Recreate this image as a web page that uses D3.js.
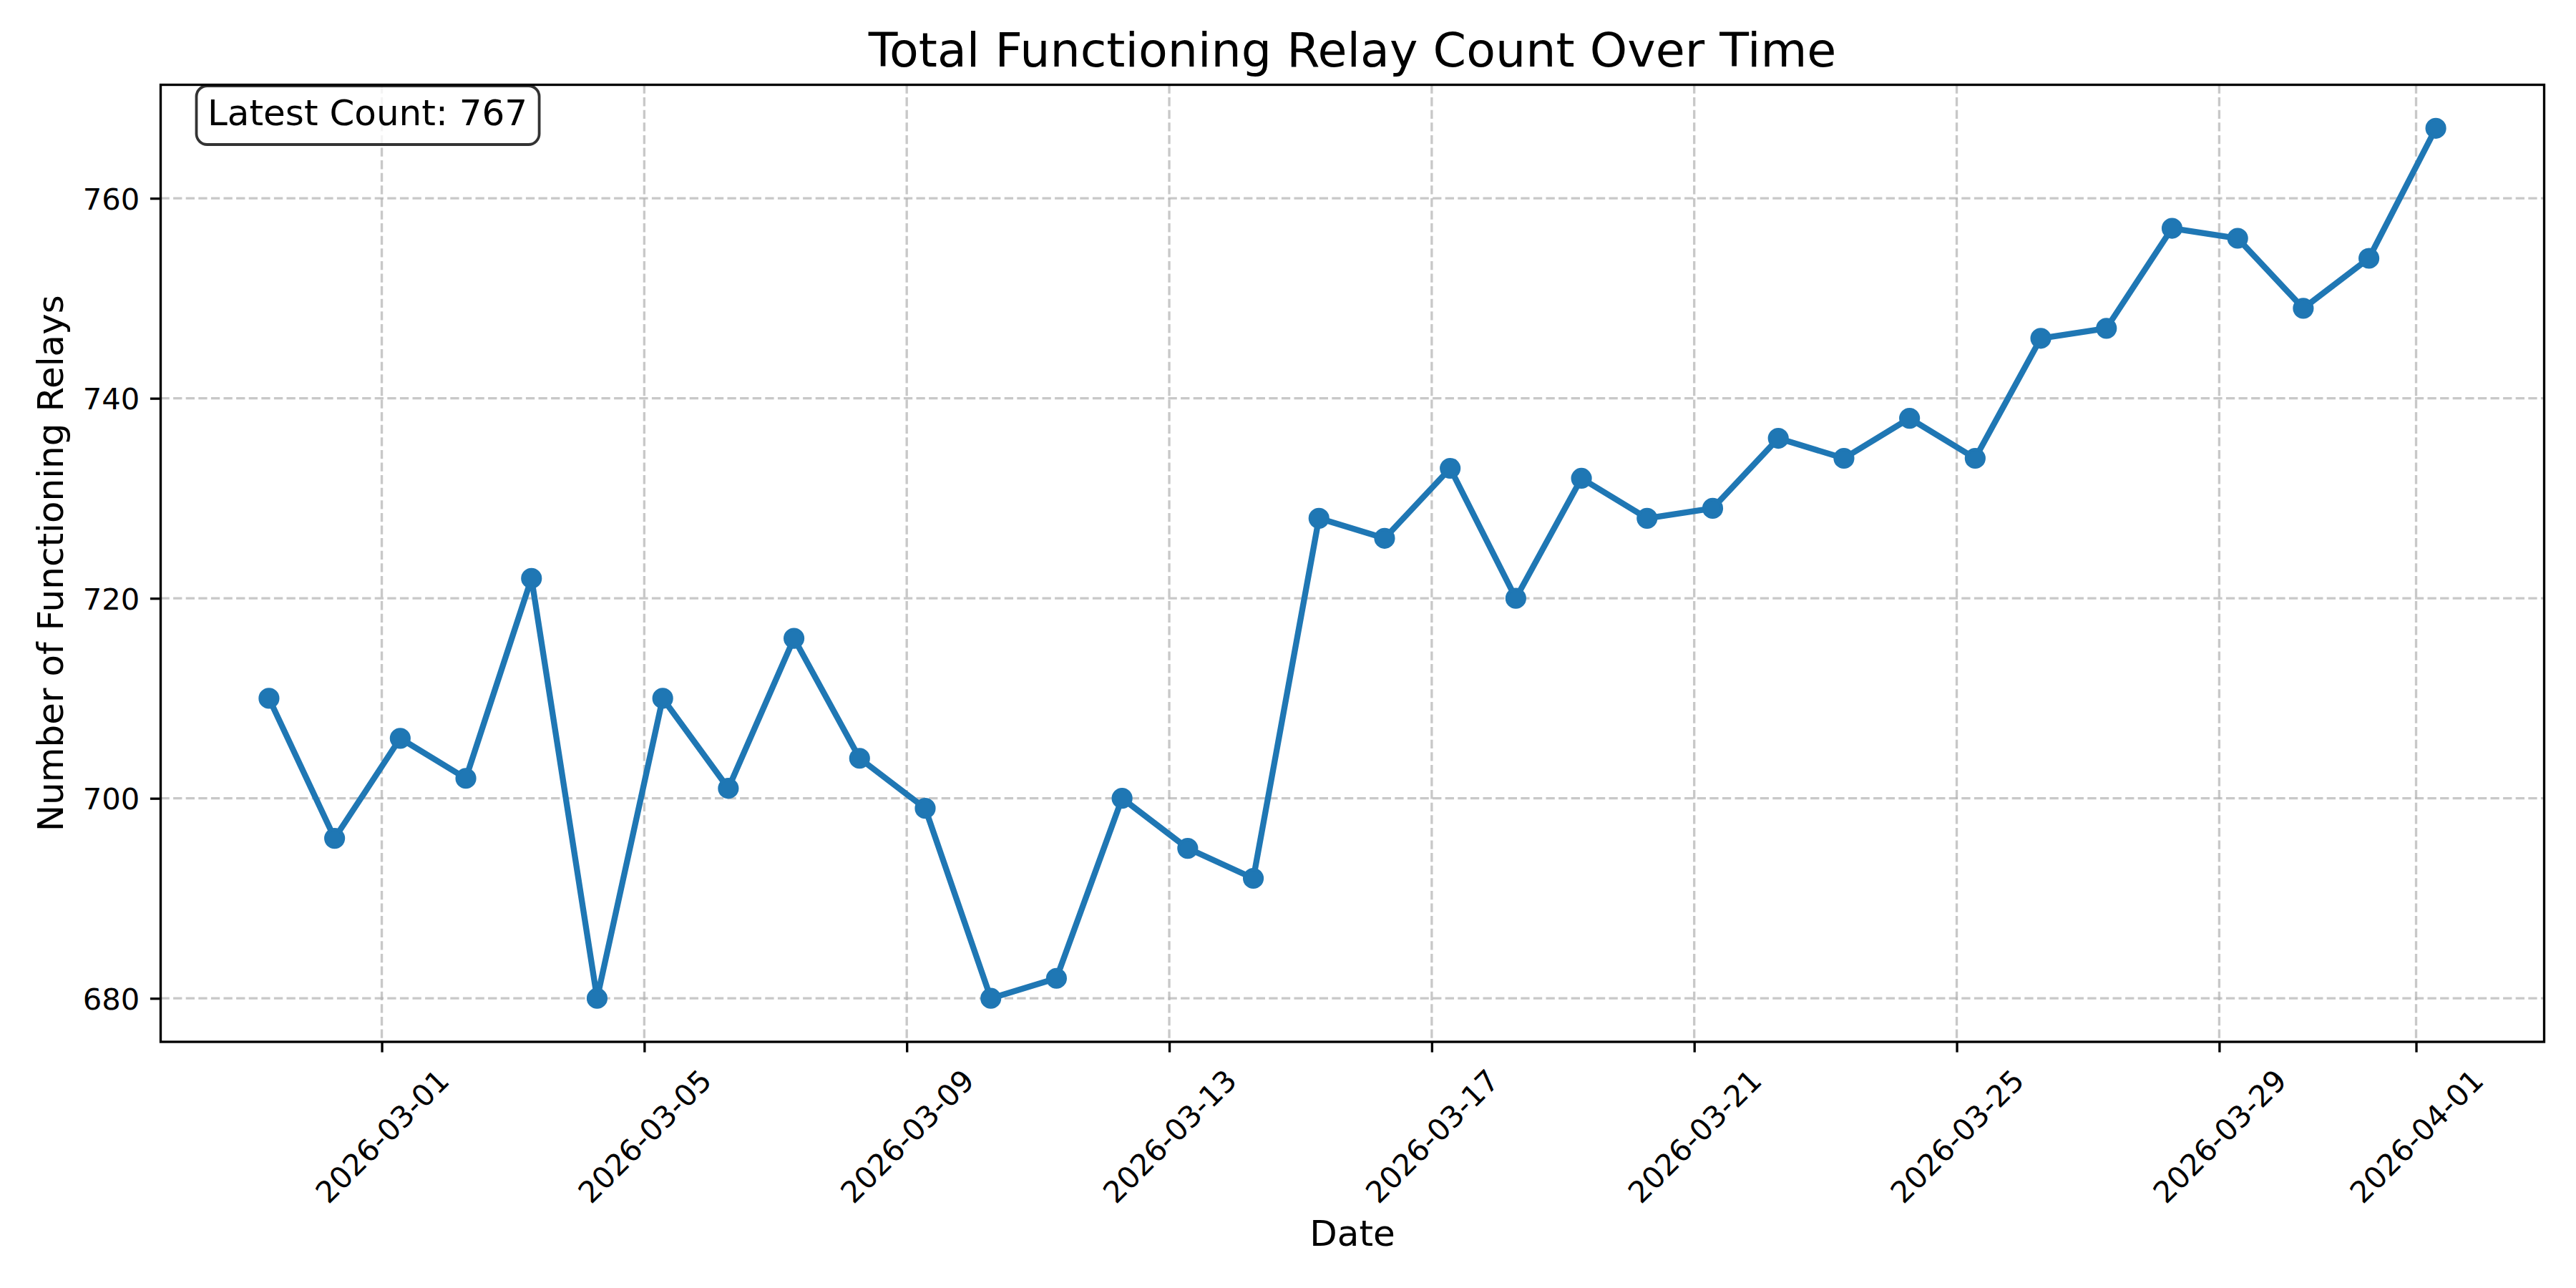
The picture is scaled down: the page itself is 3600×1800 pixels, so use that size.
<!DOCTYPE html>
<html>
<head>
<meta charset="utf-8">
<script src="https://cdn.jsdelivr.net/npm/d3@7"></script>
<style>
  html, body { margin: 0; padding: 0; background: #fff; }
  svg { display: block; font-family: "DejaVu Sans", sans-serif; }
</style>
</head>
<body>
<script>
// daily samples of the relay count
const dates = [
  "2026-02-27T06:45", "2026-02-28T06:45", "2026-03-01T06:45", "2026-03-02T06:45",
  "2026-03-03T06:45", "2026-03-04T06:45", "2026-03-05T06:45", "2026-03-06T06:45",
  "2026-03-07T06:45", "2026-03-08T06:45", "2026-03-09T06:45", "2026-03-10T06:45",
  "2026-03-11T06:45", "2026-03-12T06:45", "2026-03-13T06:45", "2026-03-14T06:45",
  "2026-03-15T06:45", "2026-03-16T06:45", "2026-03-17T06:45", "2026-03-18T06:45",
  "2026-03-19T06:45", "2026-03-20T06:45", "2026-03-21T06:45", "2026-03-22T06:45",
  "2026-03-23T06:45", "2026-03-24T06:45", "2026-03-25T06:45", "2026-03-26T06:45",
  "2026-03-27T06:45", "2026-03-28T06:45", "2026-03-29T06:45", "2026-03-30T06:45",
  "2026-03-31T06:45", "2026-04-01T07:13"
];
const counts = [
  710, 696, 706, 702, 722, 680, 710, 701, 716, 704, 699, 680,
  682, 700, 695, 692, 728, 726, 733, 720, 732, 728, 729, 736,
  734, 738, 734, 746, 747, 757, 756, 749, 754, 767
];
const xTickDates = ["2026-03-01", "2026-03-05", "2026-03-09", "2026-03-13", "2026-03-17",
                    "2026-03-21", "2026-03-25", "2026-03-29", "2026-04-01"];
const yTicks = [680, 700, 720, 740, 760];

const W = 3600, H = 1800;
const plotL = 224.5, plotR = 3555.5, plotT = 118.5, plotB = 1456;
const blue = "#1f77b4";

const parseT = d3.timeParse("%Y-%m-%dT%H:%M");
const parseD = d3.timeParse("%Y-%m-%d");
const pts = dates.map((d, i) => ({ t: parseT(d), v: counts[i] }));

// matplotlib style 5% margins
const tExt = d3.extent(pts, d => d.t);
const span = tExt[1] - tExt[0];
const vExt = d3.extent(counts);
const vSpan = vExt[1] - vExt[0];

const x = d3.scaleTime()
  .domain([new Date(+tExt[0] - 0.05 * span), new Date(+tExt[1] + 0.05 * span)])
  .range([plotL, plotR]);
const y = d3.scaleLinear()
  .domain([vExt[0] - 0.05 * vSpan, vExt[1] + 0.05 * vSpan])
  .range([plotB, plotT]);

const svg = d3.select("body").append("svg").attr("width", W).attr("height", H);
svg.append("rect").attr("width", W).attr("height", H).attr("fill", "#fff");

const xTicks = xTickDates.map(parseD);

// grid
const grid = svg.append("g")
  .attr("stroke", "#b0b0b0").attr("stroke-opacity", 0.7)
  .attr("stroke-width", 3.33).attr("stroke-dasharray", "12.3,5.3");
grid.selectAll("line.vx").data(xTicks).enter().append("line")
  .attr("x1", d => x(d)).attr("x2", d => x(d)).attr("y1", plotT).attr("y2", plotB);
grid.selectAll("line.hy").data(yTicks).enter().append("line")
  .attr("x1", plotL).attr("x2", plotR).attr("y1", d => y(d)).attr("y2", d => y(d));

// line + markers
const line = d3.line().x(d => x(d.t)).y(d => y(d.v));
svg.append("path").datum(pts)
  .attr("d", line).attr("fill", "none")
  .attr("stroke", blue).attr("stroke-width", 8.33)
  .attr("stroke-linejoin", "round").attr("stroke-linecap", "butt");
svg.append("g").selectAll("circle").data(pts).enter().append("circle")
  .attr("cx", d => x(d.t)).attr("cy", d => y(d.v)).attr("r", 12.5)
  .attr("fill", blue).attr("stroke", blue).attr("stroke-width", 4.17);

// axes
const xAxis = svg.append("g").attr("transform", `translate(0,${plotB})`)
  .call(d3.axisBottom(x).tickValues(xTicks).tickSize(14.6).tickFormat(d3.timeFormat("%Y-%m-%d")));
xAxis.select(".domain").remove();
xAxis.selectAll(".tick line").attr("stroke", "#000").attr("stroke-width", 3.33);
xAxis.selectAll(".tick text")
  .attr("fill", "#000").attr("font-size", 41.67).attr("font-family", "DejaVu Sans")
  .attr("text-anchor", "middle").attr("y", 0).attr("dy", "0.36em")
  .attr("transform", "translate(0,131.7) rotate(-45)");

const yAxis = svg.append("g").attr("transform", `translate(${plotL},0)`)
  .call(d3.axisLeft(y).tickValues(yTicks).tickSize(14.6).tickPadding(14.6));
yAxis.select(".domain").remove();
yAxis.selectAll(".tick line").attr("stroke", "#000").attr("stroke-width", 3.33);
yAxis.selectAll(".tick text")
  .attr("fill", "#000").attr("font-size", 41.67).attr("font-family", "DejaVu Sans")
  .attr("dy", "0.365em");

// spines
svg.append("rect")
  .attr("x", plotL).attr("y", plotT).attr("width", plotR - plotL).attr("height", plotB - plotT)
  .attr("fill", "none").attr("stroke", "#000").attr("stroke-width", 3.33);

// labels
svg.append("text").attr("x", (plotL + plotR) / 2).attr("y", 93)
  .attr("text-anchor", "middle").attr("font-size", 66.67)
  .text("Total Functioning Relay Count Over Time");
svg.append("text").attr("x", (plotL + plotR) / 2).attr("y", 1740.7)
  .attr("text-anchor", "middle").attr("font-size", 50)
  .text("Date");
svg.append("text").attr("transform", `translate(88,${(plotT + plotB) / 2}) rotate(-90)`)
  .attr("text-anchor", "middle").attr("font-size", 50)
  .text("Number of Functioning Relays");

// latest count box
const note = svg.append("g");
const boxRect = note.append("rect");
const noteText = note.append("text").attr("x", 290).attr("y", 175)
  .attr("font-size", 50).text(`Latest Count: ${counts[counts.length - 1]}`);
const tw = noteText.node().getComputedTextLength();
boxRect.attr("x", 274.5).attr("y", 120).attr("width", tw + 32).attr("height", 82)
  .attr("rx", 15).attr("ry", 15)
  .attr("fill", "#fff").attr("fill-opacity", 0.8)
  .attr("stroke", "#000").attr("stroke-opacity", 0.8).attr("stroke-width", 3.8);
</script>
</body>
</html>
